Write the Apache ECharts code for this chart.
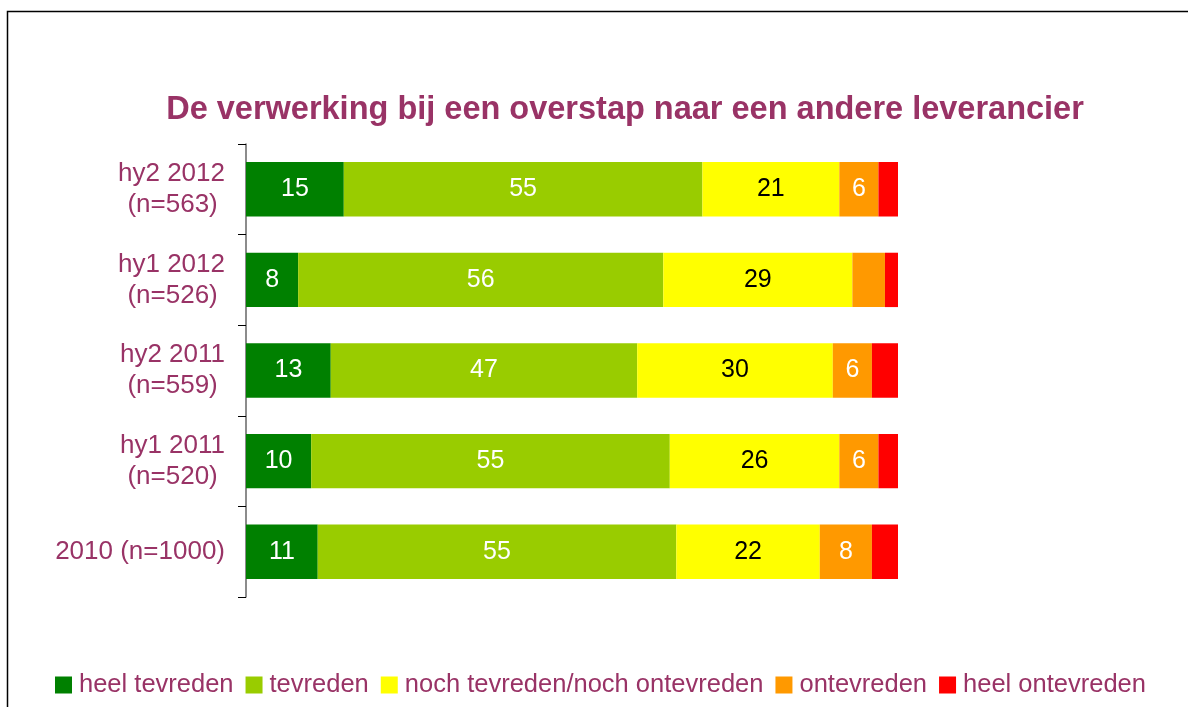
<!DOCTYPE html>
<html lang="nl">
  <head>
    <meta charset="utf-8" />
    <title>De verwerking bij een overstap</title>
    <style>
      html, body { margin: 0; padding: 0; background: #fff; }
      #chart-container { width: 1188px; height: 707px; }
    </style>
  </head>
  <body>
    <div id="chart-container"></div>
    <script src="https://cdn.jsdelivr.net/npm/echarts@6/dist/echarts.min.js"></script>
    <script>
      // categories, bottom to top (category axis starts at the bottom)
      var categories = ["2010 (n=1000)", "hy1 2011\n(n=520)", "hy2 2011\n(n=559)", "hy1 2012\n(n=526)", "hy2 2012\n(n=563)"];
      var seriesNames = ["heel tevreden", "tevreden", "noch tevreden/noch ontevreden", "ontevreden", "heel ontevreden"];
      var heelTevreden = [11, 10, 13, 8, 15];
      var tevreden = [55, 55, 47, 56, 55];
      var noch = [22, 26, 30, 29, 21];
      var ontevreden = [8, 6, 6, 5, 6];
      var heelOntevreden = [4, 3, 4, 2, 3];
      var colors = ["#008000", "#99cc00", "#ffff00", "#ff9900", "#ff0000"];
      var labelColors = ["#fff", "#fff", "#000", "#fff", "#fff"];

      var purple = "#993366";
      var font = "Liberation Sans, Arial, sans-serif";

      var dom = document.getElementById("chart-container");
      var myChart = echarts.init(dom, null, { renderer: "canvas" });

      var values = [heelTevreden, tevreden, noch, ontevreden, heelOntevreden];
      var seriesList = values.map(function (vals, i) {
        return {
          name: seriesNames[i],
          type: "bar",
          stack: "total",
          barWidth: "60%",
          itemStyle: { color: colors[i] },
          label: {
            show: true,
            position: "inside",
            color: labelColors[i],
            fontFamily: font,
            fontSize: 25,
            formatter: function (p) {
              return p.value >= 6 ? p.value : "";
            }
          },
          data: vals
        };
      });

      var option = {
        animation: false,
        title: {
          text: "De verwerking bij een overstap naar een andere leverancier",
          left: 620,
          textAlign: "center",
          top: 89,
          textStyle: { color: purple, fontFamily: font, fontWeight: "bold", fontSize: 32.5 }
        },
        graphic: [{
          type: "rect",
          shape: { x: 7.5, y: 11.5, width: 1200, height: 800 },
          style: { fill: null, stroke: "#000", lineWidth: 1.5 }
        }],
        legend: {
          bottom: 4,
          left: 50,
          itemWidth: 17,
          itemHeight: 17,
          itemGap: 12,
          icon: "rect",
          textStyle: { color: purple, fontFamily: font, fontSize: 25.5, padding: [0, 0, 0, 2] },
          data: seriesNames
        },
        grid: { left: 246, right: 290, top: 144, bottom: 110, containLabel: false },
        xAxis: {
          type: "value",
          min: 0,
          max: 100,
          show: false
        },
        yAxis: {
          type: "category",
          data: categories,
          axisLine: { show: true, lineStyle: { color: "#666", width: 1.5 } },
          axisTick: { show: true, length: 8, lineStyle: { color: "#000" } },
          axisLabel: {
            color: purple,
            fontFamily: font,
            fontSize: 26,
            lineHeight: 31,
            align: "right",
            margin: 21,
            formatter: function (v) {
              // second line sits centred under the first
              return v.indexOf("\n") >= 0 ? v + " " : v;
            }
          }
        },
        series: seriesList
      };

      myChart.setOption(option);
      window.addEventListener("resize", myChart.resize);
    </script>
  </body>
</html>
